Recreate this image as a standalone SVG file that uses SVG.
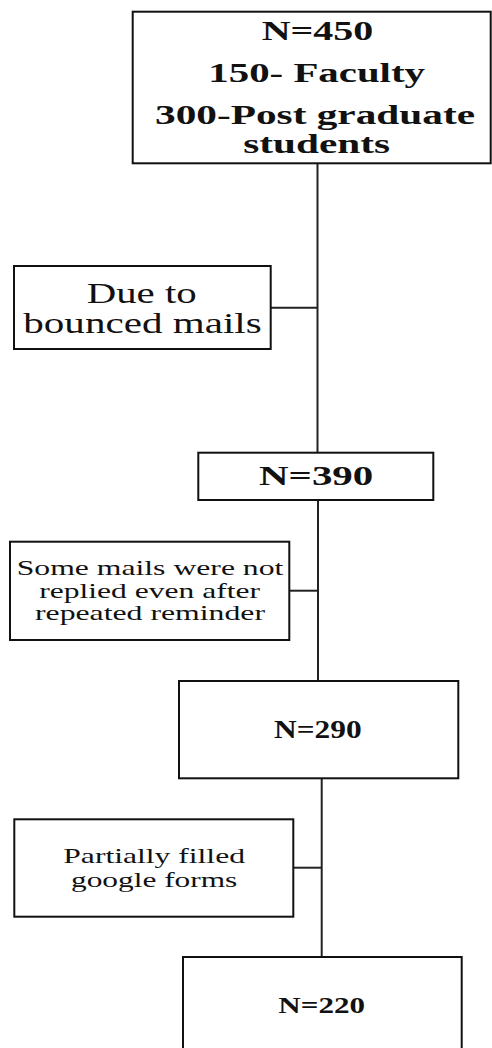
<svg xmlns="http://www.w3.org/2000/svg" width="492" height="1048" viewBox="0 0 492 1048">
<style>
.box{fill:#fff;stroke:#111;stroke-width:2}
.ln{stroke:#222;stroke-width:2;fill:none}
.b{font-family:"Liberation Serif","Times New Roman",serif;font-weight:bold;fill:#111}
.r{font-family:"Liberation Serif","Times New Roman",serif;fill:#111}
</style>
<rect width="492" height="1048" fill="#fff"/>
<g id="connectors">
<line class="ln" x1="317.5" y1="163" x2="317.5" y2="453"/>
<line class="ln" x1="270.7" y1="307.7" x2="317.5" y2="307.7"/>
<line class="ln" x1="318" y1="500" x2="318" y2="681"/>
<line class="ln" x1="289.3" y1="590.7" x2="318" y2="590.7"/>
<line class="ln" x1="321.7" y1="778" x2="321.7" y2="957"/>
<line class="ln" x1="293.3" y1="867.7" x2="321.7" y2="867.7"/>
</g>
<g id="n450">
<rect class="box" x="132.7" y="11.7" width="358" height="151.6"/>
<text class="b" font-size="27" x="261.7" y="40" textLength="111.6" lengthAdjust="spacingAndGlyphs">N=450</text>
<text class="b" font-size="27" x="208.3" y="81.7" textLength="216.7" lengthAdjust="spacingAndGlyphs">150- Faculty</text>
<text class="b" font-size="27" x="155" y="124" textLength="320" lengthAdjust="spacingAndGlyphs">300-Post graduate</text>
<text class="b" font-size="27" x="243.3" y="153.3" textLength="146.7" lengthAdjust="spacingAndGlyphs">students</text>
</g>
<g id="bounced">
<rect class="box" x="14" y="266" width="256.7" height="83"/>
<text class="r" font-size="29" x="86.7" y="303.3" textLength="110" lengthAdjust="spacingAndGlyphs">Due to</text>
<text class="r" font-size="29" x="23.3" y="332.7" textLength="238.4" lengthAdjust="spacingAndGlyphs">bounced mails</text>
</g>
<g id="n390">
<rect class="box" x="198.3" y="452.7" width="235" height="47.3"/>
<text class="b" font-size="27" x="259" y="485" textLength="114.3" lengthAdjust="spacingAndGlyphs">N=390</text>
</g>
<g id="notreplied">
<rect class="box" x="10" y="541.7" width="279.3" height="98.3"/>
<text class="r" font-size="22" x="16.7" y="575" textLength="266.7" lengthAdjust="spacingAndGlyphs">Some mails were not</text>
<text class="r" font-size="22" x="39.3" y="597.5" textLength="220.7" lengthAdjust="spacingAndGlyphs">replied even after</text>
<text class="r" font-size="22" x="35" y="620" textLength="230" lengthAdjust="spacingAndGlyphs">repeated reminder</text>
</g>
<g id="n290">
<rect class="box" x="179" y="681" width="279.3" height="97.3"/>
<text class="b" font-size="25" x="274" y="738" textLength="87.7" lengthAdjust="spacingAndGlyphs">N=290</text>
</g>
<g id="partial">
<rect class="box" x="14.3" y="819.3" width="279" height="97.4"/>
<text class="r" font-size="21" x="63.3" y="863" textLength="181.7" lengthAdjust="spacingAndGlyphs">Partially filled</text>
<text class="r" font-size="21" x="71" y="886.5" textLength="166.3" lengthAdjust="spacingAndGlyphs">google forms</text>
</g>
<g id="n220">
<rect class="box" x="183" y="957" width="278.7" height="110"/>
<text class="b" font-size="23" x="278.3" y="1012.7" textLength="86.7" lengthAdjust="spacingAndGlyphs">N=220</text>
</g>
</svg>
